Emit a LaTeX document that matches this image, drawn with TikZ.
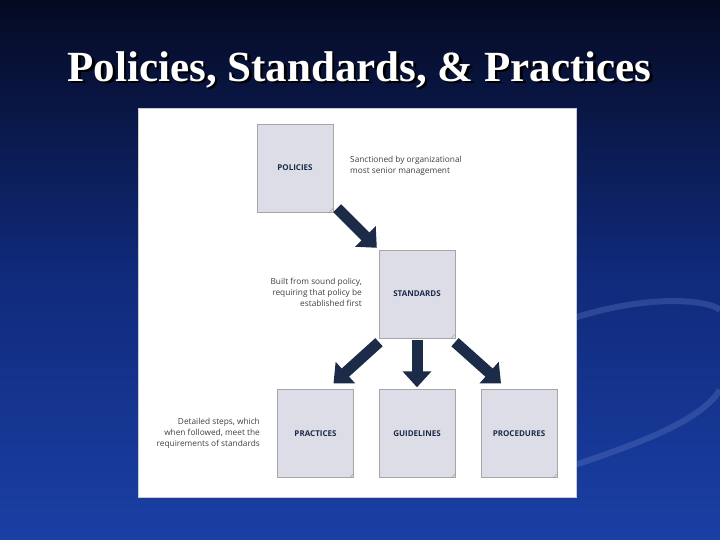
\documentclass[tikz,border=0pt]{standalone}
\usepackage{fontspec}
\setsansfont{Open Sans}
\setmainfont{Liberation Serif}
\usetikzlibrary{arrows.meta}
\definecolor{bgtop}{HTML}{050A22}
\definecolor{bgmid}{HTML}{102A7A}
\definecolor{bgbot}{HTML}{1A3FA5}
\definecolor{navy}{HTML}{1C2B48}
\definecolor{pagefill}{HTML}{DCDDE6}
\begin{document}
\begin{tikzpicture}[x=1pt,y=-1pt,
  page/.style={draw=black!35,fill=pagefill,minimum width=76pt,minimum height=88pt,inner sep=0pt,font=\sffamily\bfseries\fontsize{8}{9}\selectfont,text=navy},
  note/.style={font=\sffamily\fontsize{8.3}{11}\selectfont,text=black!75,inner sep=0pt},
  blk/.style={line width=11pt,draw=navy,-{Triangle[length=16pt,width=28pt]}}]
\useasboundingbox (0,0) rectangle (720,540);
\shade[top color=bgtop, bottom color=bgbot, middle color=bgmid] (0,0) rectangle (720,540);
\draw[bgbot!70!white,opacity=0.35,line width=6pt] (540,330) .. controls (640,290) and (710,300) .. (720,310);
\draw[bgbot!70!white,opacity=0.35,line width=6pt] (560,470) .. controls (650,440) and (700,420) .. (720,390);
\node[text=black,font=\bfseries\fontsize{43}{45}\selectfont] at (362,72) {Policies, Standards, \& Practices};
\node (title) [text=white,font=\bfseries\fontsize{43}{45}\selectfont] at (359.5,69.5) {Policies, Standards, \& Practices};
\node (panel) [fill=white,draw=black!20,minimum width=438pt,minimum height=389pt,inner sep=0pt] at (357,302.5) {};
\node (pol) [page] at (295,168) {POLICIES};
\node (std) [page] at (417,294) {STANDARDS};
\node (pra) [page] at (315.5,433.5) {PRACTICES};
\node (gui) [page] at (417,433.5) {GUIDELINES};
\node (pro) [page] at (519,433.5) {PROCEDURES};
\foreach \n in {pol,std,pra,gui,pro}
  \draw[black!40,line width=0.4pt] ([shift={(-4,0)}]\n.south east) -- ([shift={(0,-4)}]\n.south east);
\node (n1) [note,anchor=west,align=left] at (350,166) {Sanctioned by organizational\\most senior management};
\node (n2) [note,anchor=east,align=right] at (362,292) {Built from sound policy,\\requiring that policy be\\established first};
\node (n3) [note,anchor=east,align=right] at (260,433) {Detailed steps, which\\when followed, meet the\\requirements of standards};
\draw[blk] ([shift={(4,-4)}]pol.south east) -- ([shift={(-2,-2)}]std.north west);
\draw[blk] ([shift={(-38,4)}]std.south) -- ([shift={(18,-6)}]pra.north);
\draw[blk] ([shift={(0,2)}]std.south) -- ([shift={(0,-2)}]gui.north);
\draw[blk] ([shift={(38,4)}]std.south) -- ([shift={(-18,-6)}]pro.north);
\end{tikzpicture}
\end{document}
